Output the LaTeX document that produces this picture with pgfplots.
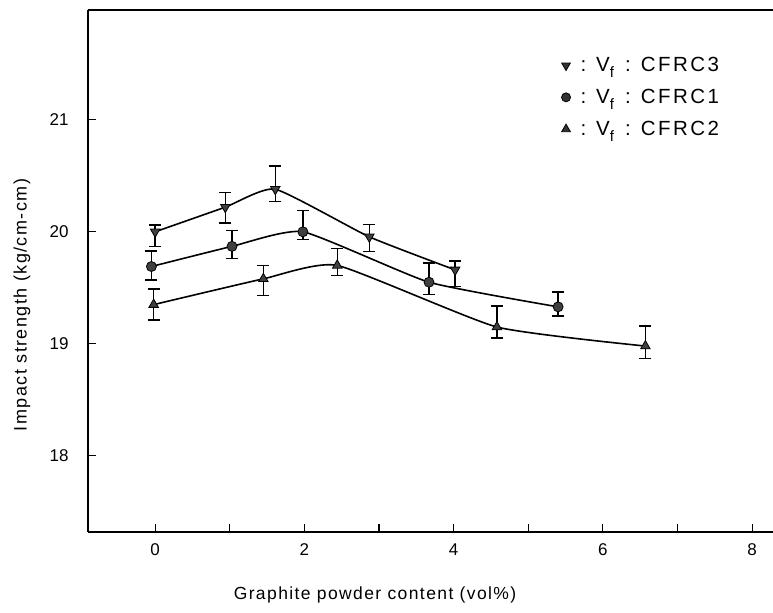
\documentclass[border=0pt]{standalone}
\usepackage{fontspec}
\setmainfont{Liberation Sans}
\newfontfamily\spacedfont{Liberation Sans}[LetterSpace=8]
\newfontfamily\legendfont{Liberation Sans}[LetterSpace=12]
\usepackage{pgfplots}
\pgfplotsset{compat=1.18}

\newcommand{\Vf}{V\raisebox{-0.55ex}{\fontsize{15}{15}\selectfont f}}
\newcommand{\entry}[1]{\hspace{8pt}:\hspace{10pt}\Vf\hspace{11pt}:\hspace{10pt}#1}

\begin{document}
\begin{tikzpicture}
\begin{axis}[
  scale only axis, width=685pt, height=522pt,
  xmin=-0.9, xmax=8.28, ymin=17.32, ymax=21.98,
  axis x line=bottom, axis y line=left,
  axis line style={-, line width=1.6pt},
  tick align=inside,
  major tick length=8pt,
  tick style={line width=1.2pt, black},
  xtick={0,...,8}, xticklabels={0,,2,,4,,6,,8},
  ytick={18,19,20,21},
  /pgf/number format/assume math mode=true,
  tick label style={font=\fontsize{17}{20}\selectfont},
  xticklabel style={yshift=-8pt},
  yticklabel style={xshift=-16pt},
  xlabel={Graphite powder content (vol\%)},
  ylabel={Impact strength (kg/cm-cm)},
  every axis x label/.style={at={(rel axis cs:0.419,0)}, yshift=-63pt, anchor=center,
    font=\spacedfont\fontsize{17.5}{20}\selectfont},
  every axis y label/.style={at={(rel axis cs:0,0.435)}, xshift=-66pt, anchor=center, rotate=90,
    font=\spacedfont\fontsize{18}{20}\selectfont},
  legend style={at={(rel axis cs:0.691,0.913)}, anchor=north west, draw=none, fill=none,
    font=\legendfont\fontsize{20.5}{23}\selectfont, row sep=12pt, inner sep=0pt},
  legend cell align=left,
  legend image code/.code={\draw[#1] plot coordinates {(0pt,0pt)};},
  clip=false,
]
\coordinate (sw) at (rel axis cs:0,0);
\coordinate (ne) at (rel axis cs:1,1);
\draw[line width=1.6pt] (rel axis cs:0,1) -- (rel axis cs:1,1);

\addlegendimage{only marks, mark=triangle*, mark size=5pt, mark options={rotate=180, fill=black!80, line width=0.8pt}}
\addlegendentry{\entry{CFRC3}}
\addlegendimage{only marks, mark=*, mark size=4.5pt, mark options={fill=black!80, line width=0.8pt}}
\addlegendentry{\entry{CFRC1}}
\addlegendimage{only marks, mark=triangle*, mark size=5pt, mark options={fill=black!80, line width=0.8pt}}
\addlegendentry{\entry{CFRC2}}

% CFRC3
\addplot[forget plot, line width=1.6pt, smooth, tension=0.3, mark=triangle*, mark size=5.5pt,
  mark options={rotate=180, fill=black!75, line width=0.8pt},
  error bars/.cd, y dir=both, y explicit,
  error bar style={line width=1.4pt},
  error mark options={rotate=90, mark size=6pt, line width=1.6pt}]
coordinates {
  (0.00,20.00) += (0,0.06) -= (0,0.13)
  (0.94,20.22) += (0,0.13) -= (0,0.14)
  (1.61,20.38) += (0,0.21) -= (0,0.11)
  (2.87,19.955) += (0,0.11) -= (0,0.13)
  (4.02,19.66) += (0,0.08) -= (0,0.15)
};
% CFRC1
\addplot[forget plot, line width=1.6pt, smooth, tension=0.3, mark=*, mark size=5pt,
  mark options={fill=black!75, line width=0.8pt},
  error bars/.cd, y dir=both, y explicit,
  error bar style={line width=1.4pt},
  error mark options={rotate=90, mark size=6pt, line width=1.6pt}]
coordinates {
  (-0.05,19.69) += (0,0.14) -= (0,0.12)
  (1.03,19.87) += (0,0.14) -= (0,0.11)
  (1.98,20.00) += (0,0.19) -= (0,0.07)
  (3.67,19.55) += (0,0.17) -= (0,0.11)
  (5.40,19.33) += (0,0.13) -= (0,0.08)
};
% CFRC2
\addplot[forget plot, line width=1.6pt, smooth, tension=0.3, mark=triangle*, mark size=5.5pt,
  mark options={fill=black!75, line width=0.8pt},
  error bars/.cd, y dir=both, y explicit,
  error bar style={line width=1.4pt},
  error mark options={rotate=90, mark size=6pt, line width=1.6pt}]
coordinates {
  (-0.02,19.35) += (0,0.14) -= (0,0.14)
  (1.45,19.58) += (0,0.12) -= (0,0.15)
  (2.44,19.70) += (0,0.15) -= (0,0.09)
  (4.58,19.15) += (0,0.19) -= (0,0.10)
  (6.57,18.98) += (0,0.18) -= (0,0.11)
};
\end{axis}
\pgfresetboundingbox
\path[use as bounding box] ([shift={(-88pt,-80pt)}]sw) rectangle ([shift={(0pt,10pt)}]ne);
\end{tikzpicture}
\end{document}
